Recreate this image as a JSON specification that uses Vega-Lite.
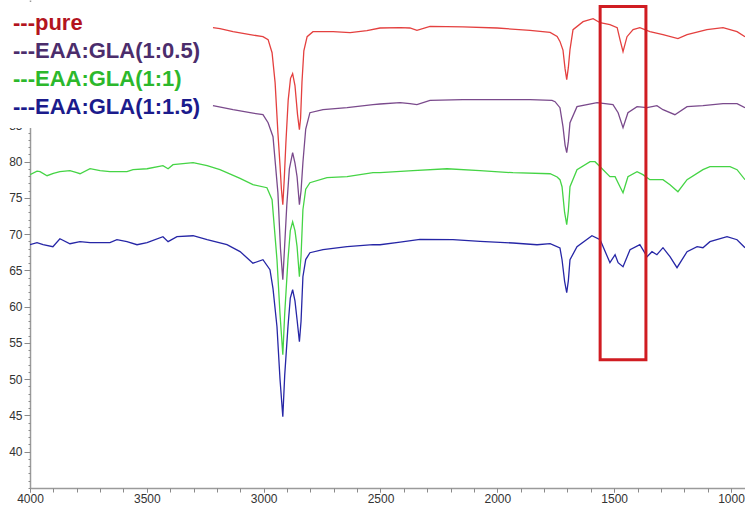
{
"$schema": "https://vega.github.io/schema/vega-lite/v6.json",
"width": 715, "height": 488,
"autosize": {"type": "none"},
"padding": {"left": 30, "top": 0, "right": 0, "bottom": 17},
"background": "white",
"config": {"view": {"stroke": null}, "font": "Liberation Sans", "axis": {"grid": false, "labelFont": "Liberation Sans", "labelFontSize": 12, "labelColor": "#333333", "domainColor": "#9a9a9a", "domainWidth": 1.5, "tickColor": "#8a8a8a", "title": null}},
"datasets": {
"box": [{"left": 1560, "right": 1364, "low": 52.69, "high": 101.42}],
"spectra": [
{"series":"pure","wn":3217,"T":98.48},{"series":"pure","wn":3187,"T":98.34},{"series":"pure","wn":3131,"T":97.93},{"series":"pure","wn":3058,"T":97.52},{"series":"pure","wn":3003,"T":97.24},{"series":"pure","wn":2981,"T":96.83},{"series":"pure","wn":2964,"T":95.03},{"series":"pure","wn":2951,"T":90.9},{"series":"pure","wn":2939,"T":84.0},{"series":"pure","wn":2930,"T":79.5},{"series":"pure","wn":2924,"T":76.2},{"series":"pure","wn":2918,"T":74.07},{"series":"pure","wn":2912,"T":77.5},{"series":"pure","wn":2905,"T":82.5},{"series":"pure","wn":2895,"T":88.5},{"series":"pure","wn":2885,"T":91.5},{"series":"pure","wn":2876,"T":92.14},{"series":"pure","wn":2866,"T":90.5},{"series":"pure","wn":2855,"T":86.5},{"series":"pure","wn":2847,"T":84.41},{"series":"pure","wn":2842,"T":86.0},{"series":"pure","wn":2836,"T":91.0},{"series":"pure","wn":2828,"T":95.3},{"series":"pure","wn":2814,"T":97.24},{"series":"pure","wn":2789,"T":97.93},{"series":"pure","wn":2703,"T":97.93},{"series":"pure","wn":2630,"T":97.79},{"series":"pure","wn":2558,"T":98.07},{"series":"pure","wn":2502,"T":98.44},{"series":"pure","wn":2416,"T":98.48},{"series":"pure","wn":2374,"T":98.44},{"series":"pure","wn":2344,"T":98.11},{"series":"pure","wn":2288,"T":98.66},{"series":"pure","wn":2147,"T":98.58},{"series":"pure","wn":2001,"T":98.44},{"series":"pure","wn":1860,"T":98.11},{"series":"pure","wn":1774,"T":97.83},{"series":"pure","wn":1744,"T":97.28},{"series":"pure","wn":1732,"T":96.59},{"series":"pure","wn":1719,"T":95.4},{"series":"pure","wn":1710,"T":92.8},{"series":"pure","wn":1703,"T":91.31},{"series":"pure","wn":1696,"T":93.0},{"series":"pure","wn":1689,"T":95.45},{"series":"pure","wn":1676,"T":98.21},{"series":"pure","wn":1633,"T":99.31},{"series":"pure","wn":1590,"T":99.72},{"series":"pure","wn":1560,"T":99.17},{"series":"pure","wn":1518,"T":98.9},{"series":"pure","wn":1487,"T":98.48},{"series":"pure","wn":1475,"T":96.83},{"series":"pure","wn":1462,"T":95.17},{"series":"pure","wn":1445,"T":97.24},{"series":"pure","wn":1419,"T":98.21},{"series":"pure","wn":1390,"T":98.48},{"series":"pure","wn":1347,"T":97.93},{"series":"pure","wn":1291,"T":97.52},{"series":"pure","wn":1227,"T":96.97},{"series":"pure","wn":1188,"T":97.52},{"series":"pure","wn":1103,"T":98.21},{"series":"pure","wn":1034,"T":98.48},{"series":"pure","wn":974,"T":97.93},{"series":"pure","wn":940,"T":97.24},
{"series":"EAA:GLA(1:0.5)","wn":3217,"T":87.72},{"series":"EAA:GLA(1:0.5)","wn":3131,"T":87.17},{"series":"EAA:GLA(1:0.5)","wn":3058,"T":86.76},{"series":"EAA:GLA(1:0.5)","wn":3003,"T":86.48},{"series":"EAA:GLA(1:0.5)","wn":2981,"T":85.38},{"series":"EAA:GLA(1:0.5)","wn":2960,"T":83.45},{"series":"EAA:GLA(1:0.5)","wn":2939,"T":75.72},{"series":"EAA:GLA(1:0.5)","wn":2928,"T":68.0},{"series":"EAA:GLA(1:0.5)","wn":2918,"T":63.72},{"series":"EAA:GLA(1:0.5)","wn":2910,"T":68.5},{"series":"EAA:GLA(1:0.5)","wn":2901,"T":74.0},{"series":"EAA:GLA(1:0.5)","wn":2890,"T":79.0},{"series":"EAA:GLA(1:0.5)","wn":2876,"T":81.24},{"series":"EAA:GLA(1:0.5)","wn":2866,"T":79.8},{"series":"EAA:GLA(1:0.5)","wn":2857,"T":77.93},{"series":"EAA:GLA(1:0.5)","wn":2847,"T":74.07},{"series":"EAA:GLA(1:0.5)","wn":2840,"T":76.0},{"series":"EAA:GLA(1:0.5)","wn":2832,"T":79.9},{"series":"EAA:GLA(1:0.5)","wn":2820,"T":84.5},{"series":"EAA:GLA(1:0.5)","wn":2802,"T":86.76},{"series":"EAA:GLA(1:0.5)","wn":2746,"T":87.17},{"series":"EAA:GLA(1:0.5)","wn":2643,"T":87.45},{"series":"EAA:GLA(1:0.5)","wn":2532,"T":87.86},{"series":"EAA:GLA(1:0.5)","wn":2502,"T":87.96},{"series":"EAA:GLA(1:0.5)","wn":2416,"T":88.14},{"series":"EAA:GLA(1:0.5)","wn":2374,"T":88.0},{"series":"EAA:GLA(1:0.5)","wn":2344,"T":87.86},{"series":"EAA:GLA(1:0.5)","wn":2288,"T":88.46},{"series":"EAA:GLA(1:0.5)","wn":2147,"T":88.55},{"series":"EAA:GLA(1:0.5)","wn":2001,"T":88.55},{"series":"EAA:GLA(1:0.5)","wn":1860,"T":88.55},{"series":"EAA:GLA(1:0.5)","wn":1766,"T":88.46},{"series":"EAA:GLA(1:0.5)","wn":1753,"T":88.28},{"series":"EAA:GLA(1:0.5)","wn":1732,"T":87.45},{"series":"EAA:GLA(1:0.5)","wn":1719,"T":84.83},{"series":"EAA:GLA(1:0.5)","wn":1710,"T":82.3},{"series":"EAA:GLA(1:0.5)","wn":1703,"T":81.24},{"series":"EAA:GLA(1:0.5)","wn":1696,"T":82.8},{"series":"EAA:GLA(1:0.5)","wn":1689,"T":85.38},{"series":"EAA:GLA(1:0.5)","wn":1659,"T":87.59},{"series":"EAA:GLA(1:0.5)","wn":1573,"T":88.14},{"series":"EAA:GLA(1:0.5)","wn":1505,"T":87.86},{"series":"EAA:GLA(1:0.5)","wn":1483,"T":86.76},{"series":"EAA:GLA(1:0.5)","wn":1462,"T":84.69},{"series":"EAA:GLA(1:0.5)","wn":1441,"T":86.76},{"series":"EAA:GLA(1:0.5)","wn":1402,"T":87.59},{"series":"EAA:GLA(1:0.5)","wn":1359,"T":87.45},{"series":"EAA:GLA(1:0.5)","wn":1317,"T":87.72},{"series":"EAA:GLA(1:0.5)","wn":1291,"T":87.17},{"series":"EAA:GLA(1:0.5)","wn":1240,"T":86.48},{"series":"EAA:GLA(1:0.5)","wn":1188,"T":87.59},{"series":"EAA:GLA(1:0.5)","wn":1120,"T":87.72},{"series":"EAA:GLA(1:0.5)","wn":1034,"T":88.0},{"series":"EAA:GLA(1:0.5)","wn":974,"T":88.0},{"series":"EAA:GLA(1:0.5)","wn":940,"T":87.45},
{"series":"EAA:GLA(1:1)","wn":4000,"T":78.21},{"series":"EAA:GLA(1:1)","wn":3970,"T":78.7},{"series":"EAA:GLA(1:1)","wn":3957,"T":78.62},{"series":"EAA:GLA(1:1)","wn":3927,"T":78.07},{"series":"EAA:GLA(1:1)","wn":3900,"T":78.4},{"series":"EAA:GLA(1:1)","wn":3872,"T":78.62},{"series":"EAA:GLA(1:1)","wn":3829,"T":78.76},{"series":"EAA:GLA(1:1)","wn":3800,"T":78.5},{"series":"EAA:GLA(1:1)","wn":3786,"T":78.34},{"series":"EAA:GLA(1:1)","wn":3743,"T":79.03},{"series":"EAA:GLA(1:1)","wn":3700,"T":78.76},{"series":"EAA:GLA(1:1)","wn":3658,"T":78.62},{"series":"EAA:GLA(1:1)","wn":3585,"T":78.62},{"series":"EAA:GLA(1:1)","wn":3559,"T":78.9},{"series":"EAA:GLA(1:1)","wn":3499,"T":79.03},{"series":"EAA:GLA(1:1)","wn":3431,"T":79.45},{"series":"EAA:GLA(1:1)","wn":3409,"T":79.03},{"series":"EAA:GLA(1:1)","wn":3388,"T":79.59},{"series":"EAA:GLA(1:1)","wn":3302,"T":79.86},{"series":"EAA:GLA(1:1)","wn":3242,"T":79.45},{"series":"EAA:GLA(1:1)","wn":3187,"T":78.9},{"series":"EAA:GLA(1:1)","wn":3101,"T":77.7},{"series":"EAA:GLA(1:1)","wn":3046,"T":76.83},{"series":"EAA:GLA(1:1)","wn":2986,"T":76.41},{"series":"EAA:GLA(1:1)","wn":2964,"T":74.76},{"series":"EAA:GLA(1:1)","wn":2943,"T":66.48},{"series":"EAA:GLA(1:1)","wn":2930,"T":59.0},{"series":"EAA:GLA(1:1)","wn":2918,"T":53.38},{"series":"EAA:GLA(1:1)","wn":2910,"T":59.0},{"series":"EAA:GLA(1:1)","wn":2896,"T":66.48},{"series":"EAA:GLA(1:1)","wn":2886,"T":70.5},{"series":"EAA:GLA(1:1)","wn":2876,"T":71.72},{"series":"EAA:GLA(1:1)","wn":2866,"T":70.5},{"series":"EAA:GLA(1:1)","wn":2857,"T":68.28},{"series":"EAA:GLA(1:1)","wn":2847,"T":64.14},{"series":"EAA:GLA(1:1)","wn":2840,"T":67.0},{"series":"EAA:GLA(1:1)","wn":2832,"T":73.38},{"series":"EAA:GLA(1:1)","wn":2820,"T":76.2},{"series":"EAA:GLA(1:1)","wn":2802,"T":77.1},{"series":"EAA:GLA(1:1)","wn":2729,"T":77.79},{"series":"EAA:GLA(1:1)","wn":2643,"T":77.93},{"series":"EAA:GLA(1:1)","wn":2532,"T":78.48},{"series":"EAA:GLA(1:1)","wn":2502,"T":78.48},{"series":"EAA:GLA(1:1)","wn":2361,"T":78.76},{"series":"EAA:GLA(1:1)","wn":2215,"T":79.03},{"series":"EAA:GLA(1:1)","wn":2074,"T":78.76},{"series":"EAA:GLA(1:1)","wn":1933,"T":78.48},{"series":"EAA:GLA(1:1)","wn":1774,"T":78.34},{"series":"EAA:GLA(1:1)","wn":1744,"T":77.9},{"series":"EAA:GLA(1:1)","wn":1732,"T":77.52},{"series":"EAA:GLA(1:1)","wn":1723,"T":76.55},{"series":"EAA:GLA(1:1)","wn":1712,"T":73.0},{"series":"EAA:GLA(1:1)","wn":1703,"T":71.31},{"series":"EAA:GLA(1:1)","wn":1696,"T":73.2},{"series":"EAA:GLA(1:1)","wn":1689,"T":76.55},{"series":"EAA:GLA(1:1)","wn":1659,"T":78.9},{"series":"EAA:GLA(1:1)","wn":1603,"T":80.0},{"series":"EAA:GLA(1:1)","wn":1582,"T":80.0},{"series":"EAA:GLA(1:1)","wn":1560,"T":79.31},{"series":"EAA:GLA(1:1)","wn":1518,"T":77.93},{"series":"EAA:GLA(1:1)","wn":1496,"T":77.93},{"series":"EAA:GLA(1:1)","wn":1475,"T":76.55},{"series":"EAA:GLA(1:1)","wn":1462,"T":75.72},{"series":"EAA:GLA(1:1)","wn":1441,"T":77.93},{"series":"EAA:GLA(1:1)","wn":1402,"T":78.62},{"series":"EAA:GLA(1:1)","wn":1377,"T":78.21},{"series":"EAA:GLA(1:1)","wn":1347,"T":77.52},{"series":"EAA:GLA(1:1)","wn":1291,"T":77.52},{"series":"EAA:GLA(1:1)","wn":1261,"T":76.83},{"series":"EAA:GLA(1:1)","wn":1227,"T":75.86},{"series":"EAA:GLA(1:1)","wn":1188,"T":77.52},{"series":"EAA:GLA(1:1)","wn":1120,"T":78.9},{"series":"EAA:GLA(1:1)","wn":1090,"T":79.31},{"series":"EAA:GLA(1:1)","wn":1034,"T":79.31},{"series":"EAA:GLA(1:1)","wn":1004,"T":79.31},{"series":"EAA:GLA(1:1)","wn":974,"T":78.9},{"series":"EAA:GLA(1:1)","wn":940,"T":77.52},
{"series":"EAA:GLA(1:1.5)","wn":4000,"T":68.55},{"series":"EAA:GLA(1:1.5)","wn":3970,"T":68.83},{"series":"EAA:GLA(1:1.5)","wn":3944,"T":68.55},{"series":"EAA:GLA(1:1.5)","wn":3902,"T":68.28},{"series":"EAA:GLA(1:1.5)","wn":3872,"T":69.38},{"series":"EAA:GLA(1:1.5)","wn":3829,"T":68.69},{"series":"EAA:GLA(1:1.5)","wn":3786,"T":68.97},{"series":"EAA:GLA(1:1.5)","wn":3743,"T":68.83},{"series":"EAA:GLA(1:1.5)","wn":3700,"T":68.83},{"series":"EAA:GLA(1:1.5)","wn":3658,"T":68.83},{"series":"EAA:GLA(1:1.5)","wn":3628,"T":69.24},{"series":"EAA:GLA(1:1.5)","wn":3585,"T":68.97},{"series":"EAA:GLA(1:1.5)","wn":3542,"T":68.55},{"series":"EAA:GLA(1:1.5)","wn":3499,"T":68.83},{"series":"EAA:GLA(1:1.5)","wn":3431,"T":69.66},{"series":"EAA:GLA(1:1.5)","wn":3409,"T":68.97},{"series":"EAA:GLA(1:1.5)","wn":3371,"T":69.66},{"series":"EAA:GLA(1:1.5)","wn":3302,"T":69.79},{"series":"EAA:GLA(1:1.5)","wn":3242,"T":69.24},{"series":"EAA:GLA(1:1.5)","wn":3157,"T":68.55},{"series":"EAA:GLA(1:1.5)","wn":3101,"T":67.6},{"series":"EAA:GLA(1:1.5)","wn":3080,"T":67.0},{"series":"EAA:GLA(1:1.5)","wn":3046,"T":66.0},{"series":"EAA:GLA(1:1.5)","wn":3003,"T":66.48},{"series":"EAA:GLA(1:1.5)","wn":2973,"T":65.1},{"series":"EAA:GLA(1:1.5)","wn":2960,"T":62.5},{"series":"EAA:GLA(1:1.5)","wn":2943,"T":57.24},{"series":"EAA:GLA(1:1.5)","wn":2930,"T":50.0},{"series":"EAA:GLA(1:1.5)","wn":2918,"T":44.83},{"series":"EAA:GLA(1:1.5)","wn":2910,"T":50.5},{"series":"EAA:GLA(1:1.5)","wn":2896,"T":57.24},{"series":"EAA:GLA(1:1.5)","wn":2886,"T":61.2},{"series":"EAA:GLA(1:1.5)","wn":2876,"T":62.34},{"series":"EAA:GLA(1:1.5)","wn":2866,"T":60.8},{"series":"EAA:GLA(1:1.5)","wn":2857,"T":58.2},{"series":"EAA:GLA(1:1.5)","wn":2847,"T":55.17},{"series":"EAA:GLA(1:1.5)","wn":2840,"T":58.0},{"series":"EAA:GLA(1:1.5)","wn":2832,"T":64.14},{"series":"EAA:GLA(1:1.5)","wn":2820,"T":66.5},{"series":"EAA:GLA(1:1.5)","wn":2802,"T":67.45},{"series":"EAA:GLA(1:1.5)","wn":2746,"T":67.86},{"series":"EAA:GLA(1:1.5)","wn":2643,"T":68.28},{"series":"EAA:GLA(1:1.5)","wn":2532,"T":68.55},{"series":"EAA:GLA(1:1.5)","wn":2502,"T":68.55},{"series":"EAA:GLA(1:1.5)","wn":2416,"T":68.9},{"series":"EAA:GLA(1:1.5)","wn":2331,"T":69.3},{"series":"EAA:GLA(1:1.5)","wn":2190,"T":69.24},{"series":"EAA:GLA(1:1.5)","wn":2074,"T":69.0},{"series":"EAA:GLA(1:1.5)","wn":1933,"T":68.79},{"series":"EAA:GLA(1:1.5)","wn":1830,"T":68.55},{"series":"EAA:GLA(1:1.5)","wn":1774,"T":68.69},{"series":"EAA:GLA(1:1.5)","wn":1732,"T":68.1},{"series":"EAA:GLA(1:1.5)","wn":1723,"T":66.48},{"series":"EAA:GLA(1:1.5)","wn":1712,"T":63.5},{"series":"EAA:GLA(1:1.5)","wn":1703,"T":61.93},{"series":"EAA:GLA(1:1.5)","wn":1696,"T":63.6},{"series":"EAA:GLA(1:1.5)","wn":1689,"T":66.48},{"series":"EAA:GLA(1:1.5)","wn":1659,"T":68.28},{"series":"EAA:GLA(1:1.5)","wn":1595,"T":69.79},{"series":"EAA:GLA(1:1.5)","wn":1560,"T":69.24},{"series":"EAA:GLA(1:1.5)","wn":1518,"T":66.07},{"series":"EAA:GLA(1:1.5)","wn":1496,"T":67.17},{"series":"EAA:GLA(1:1.5)","wn":1483,"T":66.07},{"series":"EAA:GLA(1:1.5)","wn":1462,"T":65.52},{"series":"EAA:GLA(1:1.5)","wn":1432,"T":67.86},{"series":"EAA:GLA(1:1.5)","wn":1390,"T":68.55},{"series":"EAA:GLA(1:1.5)","wn":1359,"T":66.9},{"series":"EAA:GLA(1:1.5)","wn":1338,"T":67.59},{"series":"EAA:GLA(1:1.5)","wn":1317,"T":67.17},{"series":"EAA:GLA(1:1.5)","wn":1291,"T":68.14},{"series":"EAA:GLA(1:1.5)","wn":1261,"T":66.9},{"series":"EAA:GLA(1:1.5)","wn":1231,"T":65.38},{"series":"EAA:GLA(1:1.5)","wn":1188,"T":67.59},{"series":"EAA:GLA(1:1.5)","wn":1145,"T":68.28},{"series":"EAA:GLA(1:1.5)","wn":1120,"T":68.14},{"series":"EAA:GLA(1:1.5)","wn":1090,"T":68.97},{"series":"EAA:GLA(1:1.5)","wn":1017,"T":69.66},{"series":"EAA:GLA(1:1.5)","wn":974,"T":69.24},{"series":"EAA:GLA(1:1.5)","wn":940,"T":68.14}
]},
"resolve": {"scale": {"x": "independent", "y": "independent"}, "axis": {"x": "independent", "y": "independent"}},
"layer": [
{"data": {"name": "spectra"},
 "mark": {"type": "line", "strokeWidth": 1.3, "clip": true},
 "encoding": {
  "x": {"field": "wn", "type": "quantitative", "scale": {"domain": [940, 4000], "reverse": true, "nice": false, "zero": false},
        "axis": {"orient": "bottom", "values": [1000,1500,2000,2500,3000,3500,4000], "format": "d", "tickSize": 4, "labelPadding": 1, "labelFlush": false, "labelOverlap": false}},
  "y": {"field": "T", "type": "quantitative", "scale": {"domain": [35, 102.3], "nice": false, "zero": false},
        "axis": {"orient": "left", "values": [40,45,50,55,60,65,70,75,80,85], "tickSize": 6, "labelPadding": 2, "labelOverlap": false, "labelFlush": false}},
  "color": {"field": "series", "type": "nominal",
    "scale": {"domain": ["pure", "EAA:GLA(1:0.5)", "EAA:GLA(1:1)", "EAA:GLA(1:1.5)"], "range": ["#e4403f", "#7a4a8c", "#45d445", "#2626a6"]},
    "legend": {"orient": "none", "legendX": -30, "legendY": 2, "title": null, "fillColor": "white", "padding": 10,
       "symbolSize": 0, "symbolStrokeWidth": 0, "symbolOpacity": 0, "labelOffset": -19, "rowPadding": 6,
       "labelFont": "Liberation Sans", "labelFontWeight": "bold", "labelFontSize": 22, "labelLimit": 400,
       "labelExpr": "'---' + datum.label",
       "labelColor": {"expr": "datum.value == 'pure' ? '#b3141e' : datum.value == 'EAA:GLA(1:0.5)' ? '#4b2d6c' : datum.value == 'EAA:GLA(1:1)' ? '#2cb82c' : '#1b1b8c'"}}}
 }},
{"data": {"name": "box"},
 "mark": {"type": "rect", "filled": false, "color": "#d01c22", "strokeWidth": 3},
 "encoding": {
  "x": {"field": "left", "type": "quantitative", "scale": {"domain": [940, 4000], "reverse": true, "nice": false, "zero": false},
        "axis": {"orient": "bottom", "values": [1000,1100,1200,1300,1400,1500,1600,1700,1800,1900,2000,2100,2200,2300,2400,2500,2600,2700,2800,2900,3000,3100,3200,3300,3400,3500,3600,3700,3800,3900,4000], "labels": false, "domain": false, "tickSize": 4}},
  "x2": {"field": "right"},
  "y": {"field": "low", "type": "quantitative", "scale": {"domain": [35, 102.3], "nice": false, "zero": false},
        "axis": {"orient": "left", "values": [35,36,37,38,39,40,41,42,43,44,45,46,47,48,49,50,51,52,53,54,55,56,57,58,59,60,61,62,63,64,65,66,67,68,69,70,71,72,73,74,75,76,77,78,79,80,81,82,83,84,85], "labels": false, "domain": false, "tickSize": 2}},
  "y2": {"field": "high"}}}
]
}
